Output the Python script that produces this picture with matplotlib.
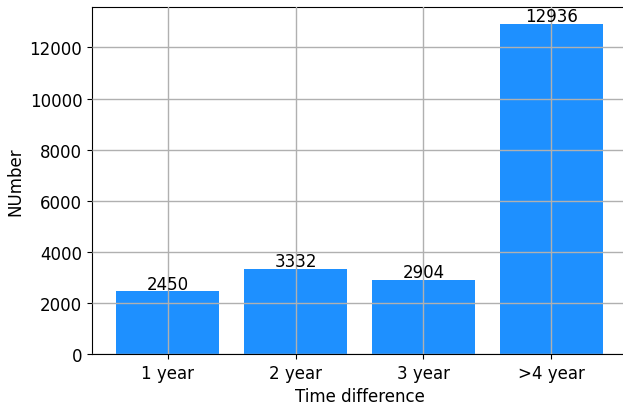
import matplotlib.pyplot as plt

# データ
categories = ['1 year', '2 year', '3 year', '>4 year']
counts = [2450, 3332, 2904, 12936]

plt.rcParams['font.size'] = 12

fig = plt.figure(figsize=(6.23, 4.06), dpi=100)
ax = fig.add_axes([92 / 623, 51 / 406, 535 / 623, 347 / 406])

bars = ax.bar(categories, counts, color='dodgerblue', width=0.8)
ax.bar_label(bars, padding=-1, fontsize=12)

# グラフの装飾
ax.grid(True, color='#b0b0b0', linewidth=1.0)
ax.set_axisbelow(False)
ax.set_xlabel('Time difference')
ax.set_ylabel('NUmber')

plt.savefig('out.png', dpi=100)
